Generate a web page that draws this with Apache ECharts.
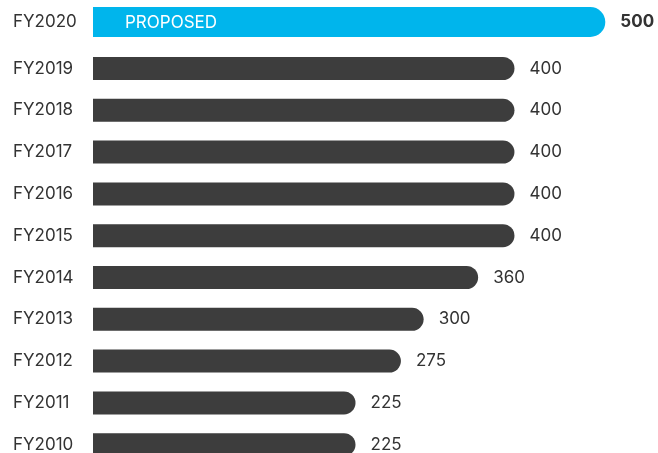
<!DOCTYPE html>
<html>
<head>
<meta charset="utf-8">
<script src="https://cdn.jsdelivr.net/npm/echarts@6/dist/echarts.min.js"></script>
<style>
  html, body { margin: 0; padding: 0; background: #ffffff; }
  #chart { width: 658px; height: 453px; }
</style>
</head>
<body>
<div id="chart"></div>
<script>
// budget per fiscal year, bottom to top
const years = ['FY2010', 'FY2011', 'FY2012', 'FY2013', 'FY2014', 'FY2015', 'FY2016', 'FY2017', 'FY2018', 'FY2019'];
const budgets = [225, 225, 275, 300, 360, 400, 400, 400, 400, 400];
const proposedYears = ['FY2020'];
const proposedBudgets = [500];
const proposedTag = 'PROPOSED';

const font = 'Inter';
const textColor = '#333333';
const darkBar = '#3d3d3d';
const blueBar = '#00b5ec';

const chart = echarts.init(document.getElementById('chart'));

// both grids share the same x mapping; bars start at the axis min
const xAxisBase = {
    type: 'value',
    min: -64,
    max: 536,
    startValue: -64,
    show: false,
    splitLine: { show: false }
};

const yAxisBase = {
    type: 'category',
    axisLine: { show: false },
    axisTick: { show: false },
    axisLabel: {
        align: 'left',
        margin: 80,
        padding: [3, 0, 0, 0],
        color: textColor,
        fontFamily: font,
        fontSize: 17
    }
};

const option = {
    backgroundColor: '#ffffff',
    animation: false,
    grid: [
        { left: 93, right: 20, top: 0, height: 44, outerBoundsMode: 'none' },
        // lowest row is cut off by the bottom edge, as in the source
        { left: 93, right: 20, top: 47.6, height: 418, outerBoundsMode: 'none' }
    ],
    xAxis: [
        Object.assign({ gridIndex: 0 }, xAxisBase),
        Object.assign({ gridIndex: 1 }, xAxisBase)
    ],
    yAxis: [
        Object.assign({ gridIndex: 0, data: proposedYears }, yAxisBase),
        Object.assign({ gridIndex: 1, data: years }, yAxisBase)
    ],
    series: [
        {
            type: 'bar',
            xAxisIndex: 0,
            yAxisIndex: 0,
            data: proposedBudgets,
            barWidth: 30,
            itemStyle: { color: blueBar, borderRadius: [0, 15, 15, 0] },
            label: {
                show: true,
                position: 'right',
                distance: 15,
                padding: [3, 0, 0, 0],
                color: textColor,
                fontFamily: font,
                fontWeight: 'bold',
                fontSize: 17
            }
        },
        {
            type: 'bar',
            xAxisIndex: 1,
            yAxisIndex: 1,
            data: budgets,
            barWidth: 23,
            itemStyle: { color: darkBar, borderRadius: [0, 11.5, 11.5, 0] },
            label: {
                show: true,
                position: 'right',
                distance: 15,
                padding: [3, 0, 0, 0],
                color: textColor,
                fontFamily: font,
                fontSize: 17
            }
        }
    ],
    graphic: [
        {
            type: 'text',
            z: 100,
            left: 125,
            top: 14,
            style: {
                text: proposedTag,
                fill: '#ffffff',
                font: '17px Inter'
            }
        }
    ]
};

chart.setOption(option);
</script>
</body>
</html>
